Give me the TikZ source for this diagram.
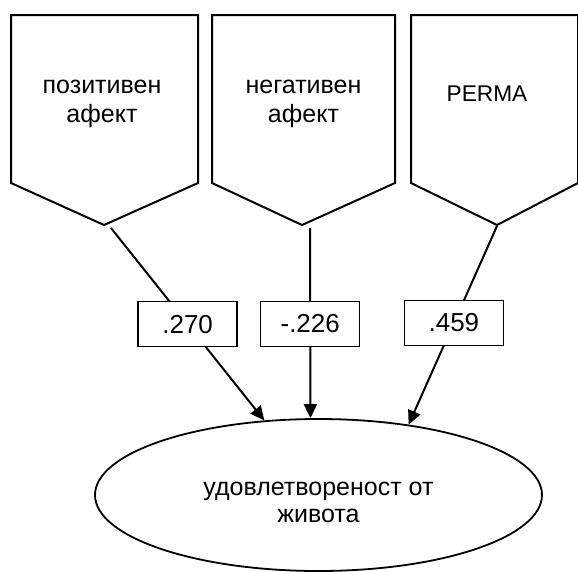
\documentclass[tikz,border=0pt]{standalone}
\usepackage{fontspec}
\setmainfont{Liberation Sans}
\usetikzlibrary{arrows.meta,shapes.geometric}
\begin{document}
\begin{tikzpicture}[x=1pt,y=-1pt,
  outline/.style={line width=2pt, line join=miter},
  caption/.style={font=\fontsize{25}{29}\selectfont, align=center, inner sep=0pt},
  valbox/.style={draw, line width=1.4pt, fill=white, minimum width=99pt,
    minimum height=45pt, inner sep=0pt, font=\fontsize{26}{30}\selectfont},
  link/.style={line width=2pt, -{Triangle[length=14pt,width=13pt]}},
]
\useasboundingbox (0,0) rectangle (578,571);

% predictor blocks (pentagons pointing down)
\draw[outline] (11,15) -- (198,15) -- (198,183) -- (104,225) -- (11,183) -- cycle;
\draw[outline] (212,15) -- (395,15) -- (395,183) -- (302,225) -- (212,183) -- cycle;
\draw[outline] (411,15) -- (578,15) -- (578,183) -- (497,225) -- (411,183) -- cycle;

% captions: the base anchor sits on the last line
\node[caption, anchor=base] (pa) at (102,122.5) {позитивен\\афект};
\node[caption, anchor=base] (na) at (303.5,122.5) {негативен\\афект};
\node[caption, anchor=base, font=\fontsize{22.7}{26}\selectfont] (perma) at (487,101) {PERMA};

% outcome
\node[draw, ellipse, line width=1.8pt, minimum width=447pt, minimum height=152pt,
  inner sep=0pt] (life) at (318.5,495) {};
\node[caption, anchor=base, font=\fontsize{25}{27}\selectfont] (lifetext) at (318.5,522)
  {удовлетвореност от\\живота};

% path starts and ends
\coordinate (from1) at (111,228);
\coordinate (from2) at (310,228);
\coordinate (from3) at (497,226);
\coordinate (to1) at (life.126.8);
\coordinate (to2) at (life.96.3);
\coordinate (to3) at (life.38.8);

\draw[link] (from1) -- node[valbox, pos=0.5] (b1) {.270} (to1);
\draw[link] (from2) -- node[valbox, pos=0.505] (b2) {-.226} (to2);
\draw[link] (from3) -- node[valbox, pos=0.488] (b3) {.459} (to3);
\end{tikzpicture}
\end{document}
